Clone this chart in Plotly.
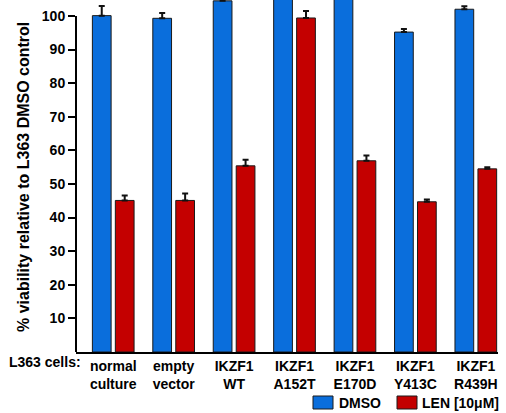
import plotly.graph_objects as go

categories = ["normal<br>culture", "empty<br>vector", "IKZF1<br>WT", "IKZF1<br>A152T",
              "IKZF1<br>E170D", "IKZF1<br>Y413C", "IKZF1<br>R439H"]
dmso_values = [100.1, 99.3, 104.5, 110.0, 108.0, 95.2, 102.0]
dmso_errors = [2.9, 1.6, 1.2, 1.5, 1.5, 0.9, 0.9]
len_values = [45.1, 45.1, 55.4, 99.4, 56.9, 44.7, 54.5]
len_errors = [1.5, 2.1, 1.8, 2.1, 1.6, 0.7, 0.5]
y_ticks = [10, 20, 30, 40, 50, 60, 70, 80, 90, 100]

BLUE = "#0A6EDC"
RED = "#C40000"
FONT = "Liberation Sans, Arial, Helvetica, sans-serif"
FS = 14

L, R, T, B = 76, 8, 0, 61
W, H = 506, 413
PW, PH = W - L - R, H - T - B

def px_x(px):
    return (px - L) / PW

def px_y(py):
    return (H - B - py) / PH

xs = list(range(len(categories)))

fig = go.Figure()
fig.add_trace(go.Bar(
    x=xs, y=dmso_values, name="DMSO", width=0.31, offset=-0.345,
    marker=dict(color=BLUE, line=dict(color="#1a1a1a", width=1)),
    error_y=dict(type="data", array=dmso_errors, arrayminus=[0]*len(xs), symmetric=False,
                 color="#111111", thickness=2, width=3),
    showlegend=False,
))
fig.add_trace(go.Bar(
    x=xs, y=len_values, name="LEN [10μM]", width=0.31, offset=0.035,
    marker=dict(color=RED, line=dict(color="#1a1a1a", width=1)),
    error_y=dict(type="data", array=len_errors, arrayminus=[0]*len(xs), symmetric=False,
                 color="#111111", thickness=2, width=3),
    showlegend=False,
))

shapes = [
    dict(type="line", xref="paper", yref="y", x0=0, x1=0, y0=0, y1=100,
         line=dict(color="black", width=2)),
    dict(type="rect", xref="paper", yref="paper", x0=px_x(313), x1=px_x(333),
         y0=px_y(409), y1=px_y(396), fillcolor=BLUE, line=dict(color="#1a1a1a", width=1)),
    dict(type="rect", xref="paper", yref="paper", x0=px_x(397), x1=px_x(417),
         y0=px_y(409), y1=px_y(396), fillcolor=RED, line=dict(color="#1a1a1a", width=1)),
]

annotations = [
    dict(text="L363 cells:", xref="paper", yref="paper", x=px_x(83), y=px_y(362),
         xanchor="right", yanchor="middle", showarrow=False,
         font=dict(family=FONT, size=FS, color="black", weight="bold")),
    dict(text="% viability relative to L363 DMSO control", xref="paper", yref="paper",
         x=px_x(23), y=px_y(177), xanchor="center", yanchor="middle", textangle=-90,
         showarrow=False, font=dict(family=FONT, size=16, color="black", weight="bold")),
    dict(text="DMSO", xref="paper", yref="paper", x=px_x(337), y=px_y(403),
         xanchor="left", yanchor="middle", showarrow=False,
         font=dict(family=FONT, size=FS, color="black", weight="bold")),
    dict(text="LEN [10μM]", xref="paper", yref="paper", x=px_x(420), y=px_y(403),
         xanchor="left", yanchor="middle", showarrow=False,
         font=dict(family=FONT, size=FS, color="black", weight="bold")),
]

fig.update_layout(
    width=W, height=H,
    margin=dict(l=L, r=R, t=T, b=B, pad=0),
    paper_bgcolor="white", plot_bgcolor="white",
    barmode="group",
    shapes=shapes, annotations=annotations,
    font=dict(family=FONT, size=FS, color="black", weight="bold"),
    xaxis=dict(
        range=[-0.616, 6.367], tickvals=xs, ticktext=categories,
        showline=True, linecolor="black", linewidth=2, ticks="", showgrid=False,
        zeroline=False, fixedrange=True,
        tickfont=dict(family=FONT, size=FS, color="black", weight="bold"),
    ),
    yaxis=dict(
        range=[0, 104.75], tickvals=y_ticks, ticks="outside", ticklen=7, tickwidth=2,
        tickcolor="black", showline=False, showgrid=False, zeroline=False,
        tickfont=dict(family=FONT, size=FS, color="black", weight="bold"),
        fixedrange=True,
    ),
)

fig.write_html("out.html", config={"displayModeBar": False},
               post_script="document.body.style.margin='0';document.body.style.overflow='hidden';")
